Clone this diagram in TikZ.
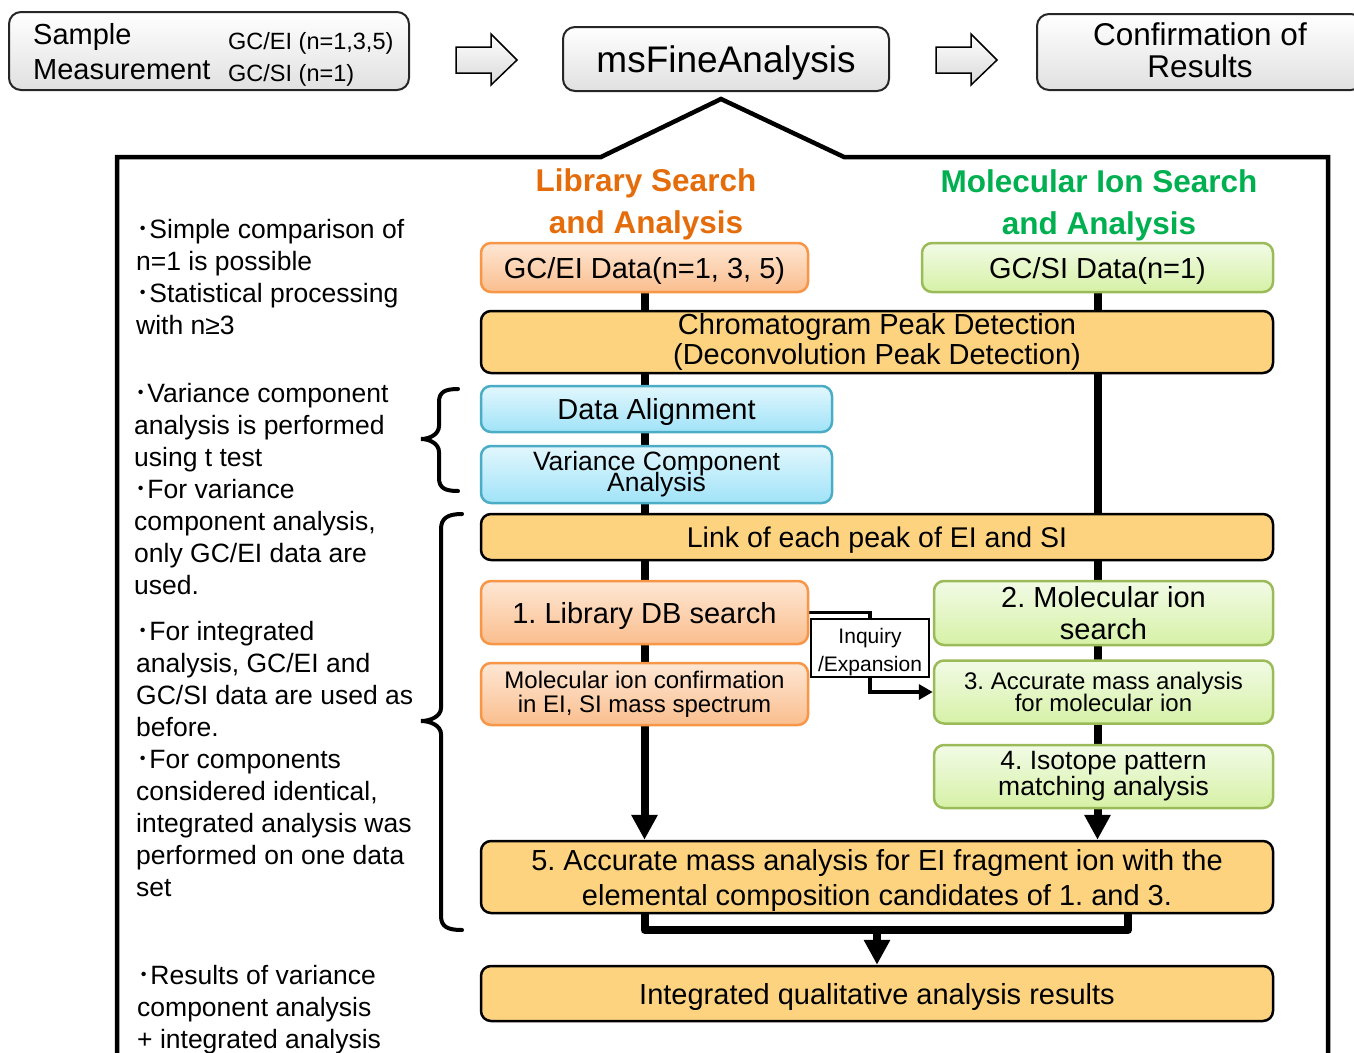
\documentclass[tikz,border=0pt]{standalone}
\usepackage{fontspec}
\setmainfont{Liberation Sans}
\newfontfamily\cjkfont{Noto Sans CJK JP}
\usetikzlibrary{arrows.meta}
\pgfdeclarelayer{background}
\pgfsetlayers{background,main}
\newcommand\myfs[2]{\fontsize{#1}{#2}\selectfont\lineskiplimit=-100pt\lineskip=0pt\frenchspacing}
\newcommand\bul{{\cjkfont ･}}
\definecolor{oTop}{RGB}{254,231,212}
\definecolor{oBot}{RGB}{250,190,142}
\definecolor{oBrd}{RGB}{247,150,70}
\definecolor{gTop}{RGB}{242,251,230}
\definecolor{gBot}{RGB}{214,241,166}
\definecolor{gBrd}{RGB}{155,187,89}
\definecolor{bTop}{RGB}{226,247,253}
\definecolor{bBot}{RGB}{160,227,248}
\definecolor{bBrd}{RGB}{75,172,198}
\definecolor{yFill}{RGB}{253,211,128}
\definecolor{hOrange}{RGB}{228,108,10}
\definecolor{hGreen}{RGB}{0,176,80}
\begin{document}
\begin{tikzpicture}[x=1pt,y=-1pt,
  topbox/.style={draw=black!85,line width=2pt,rounded corners=12pt,top color=white,bottom color=black!12,inner sep=0pt},
  obox/.style={draw=oBrd,line width=2.5pt,rounded corners=10pt,top color=oTop,bottom color=oBot,inner sep=0pt,align=center},
  gbox/.style={draw=gBrd,line width=2.5pt,rounded corners=10pt,top color=gTop,bottom color=gBot,inner sep=0pt,align=center},
  bbox/.style={draw=bBrd,line width=2.5pt,rounded corners=10pt,top color=bTop,bottom color=bBot,inner sep=0pt,align=center},
  ybox/.style={draw=black,line width=2.5pt,rounded corners=10pt,fill=yFill,inner sep=0pt,align=center},
  oneline/.style={text depth=0pt},
  plain/.style={inner sep=0pt},
  sidetext/.style={inner sep=0pt,anchor=north west,align=left,font=\myfs{26.5}{32}},
  hdr/.style={inner sep=0pt,align=center,font=\bfseries\myfs{31.5}{42}},
  flow/.style={line width=8pt},
  bigtip/.style={-{Triangle[length=25pt,width=25pt]}},
  hollow/.style={draw=black,line width=1.5pt,top color=white,bottom color=black!15,line join=miter},
  brace/.style={line width=4pt,line cap=round}]
\clip (0,0) rectangle (1354,1052);
\useasboundingbox (0,0) rectangle (1354,1052);

% top row
\node[topbox,minimum width=400pt,minimum height=78pt] (sample) at (209,51) {};
\node[plain,anchor=base west,font=\myfs{29}{30}] (sampleA) at (33,44) {Sample};
\node[plain,anchor=base west,font=\myfs{29}{30}] (sampleB) at (33,79) {Measurement};
\node[plain,anchor=base west,font=\myfs{23.5}{26}] (sampleC) at (228,49) {GC/EI (n=1,3,5)};
\node[plain,anchor=base west,font=\myfs{23.5}{26}] (sampleD) at (228,81) {GC/SI (n=1)};

\node[topbox,oneline,minimum width=326pt,minimum height=64pt,font=\myfs{37}{40}] (msfine) at (726,59) {msFineAnalysis};
\node[topbox,minimum width=326pt,minimum height=76pt] (confirm) at (1200,52) {};
\node[plain,align=center,font=\myfs{31.5}{32}] (confirmtext) at (1200,50) {Confirmation of\\Results};

\draw[hollow] (456,47) -- (491,47) -- (491,34) -- (517,60) -- (491,85) -- (491,73) -- (456,73) -- cycle;
\draw[hollow] (936,47) -- (971,47) -- (971,34) -- (997,60) -- (971,85) -- (971,73) -- (936,73) -- cycle;

% frame
\draw[line width=4.5pt,line join=miter] (117,1070) -- (117,157) -- (601,157) -- (721,99) -- (844,157) -- (1328,157) -- (1328,1070);

% headers
\node[hdr,text=hOrange] (hlib) at (646,204) {Library Search\\and Analysis};
\node[hdr,text=hGreen] (hmol) at (1099,205) {Molecular Ion Search\\and Analysis};

% boxes
\node[obox,oneline,minimum width=327pt,minimum height=49pt,font=\myfs{29}{32}] (gcei) at (644.5,267.5) {GC/EI Data(n=1, 3, 5)};
\node[gbox,oneline,minimum width=351pt,minimum height=49pt,font=\myfs{29}{32}] (gcsi) at (1097.5,267.5) {GC/SI Data(n=1)};
\node[ybox,minimum width=792pt,minimum height=62pt,font=\myfs{29}{30}] (chrom) at (877,342) {Chromatogram Peak Detection\\(Deconvolution Peak Detection)};
\node[bbox,oneline,minimum width=351pt,minimum height=46pt,font=\myfs{29}{32}] (align) at (656.5,409) {Data Alignment};
\node[bbox,minimum width=351pt,minimum height=57pt,font=\myfs{26.5}{21}] (varc) at (656.5,474.5) {Variance Component\\Analysis};
\node[ybox,oneline,minimum width=792pt,minimum height=46pt,font=\myfs{28.5}{32}] (link) at (877,537) {Link of each peak of EI and SI};
\node[obox,oneline,minimum width=327pt,minimum height=63pt,font=\myfs{29}{32}] (lib) at (644.5,612.5) {1. Library DB search};
\node[obox,minimum width=327pt,minimum height=62pt,font=\myfs{24}{24}] (molc) at (644.5,694) {Molecular ion confirmation\\in EI, SI mass spectrum};
\node[gbox,minimum width=339pt,minimum height=64pt,font=\myfs{29}{32}] (mol2) at (1103.5,613) {2. Molecular ion\\search};
\node[gbox,minimum width=339pt,minimum height=63pt,font=\myfs{24}{22}] (acc3) at (1103.5,692) {3. Accurate mass analysis\\for molecular ion};
\node[gbox,minimum width=339pt,minimum height=63pt,font=\myfs{26.5}{26}] (iso4) at (1103.5,776.5) {4. Isotope pattern\\matching analysis};
\node[ybox,minimum width=792pt,minimum height=72pt] (acc5) at (877,877) {};
\node[plain,align=center,font=\myfs{29}{35}] (acc5text) at (877,880) {5. Accurate mass analysis for EI fragment ion with the\\elemental composition candidates of 1. and 3.};
\node[ybox,oneline,minimum width=792pt,minimum height=55pt,font=\myfs{29}{32}] (integ) at (877,993.5) {Integrated qualitative analysis results};
\node[draw=black,line width=2pt,fill=white,minimum width=118pt,minimum height=58pt,inner sep=0pt] (inq) at (870,648) {};
\node[plain,align=center,font=\myfs{21}{28}] (inqtext) at (870,652) {Inquiry\\/Expansion};

% side texts
\node[sidetext] (t1) at (136,219) {\bul Simple comparison of\\n=1 is possible\\\bul Statistical processing\\with n≥3};
\node[sidetext] (t2) at (134,383) {\bul Variance component\\analysis is performed\\using t test\\\bul For variance\\component analysis,\\only GC/EI data are\\used.};
\node[sidetext] (t3) at (136,621) {\bul For integrated\\analysis, GC/EI and\\GC/SI data are used as\\before.\\\bul For components\\considered identical,\\integrated analysis was\\performed on one data\\set};
\node[sidetext] (t4) at (137,965) {\bul Results of variance\\component analysis\\+ integrated analysis};

% braces
\draw[brace] (458,389) .. controls (445,389) and (439,392) .. (439,402) -- (439,426) .. controls (439,434) and (430,439) .. (421,439) .. controls (430,439) and (439,444) .. (439,452) -- (439,478) .. controls (439,488) and (445,491) .. (458,491);
\draw[brace] (462,514) .. controls (448,514) and (441,518) .. (441,529) -- (441,708) .. controls (441,716) and (431,721) .. (421,721) .. controls (431,721) and (441,726) .. (441,734) -- (441,916) .. controls (441,927) and (448,930) .. (462,930);

% connectors
\coordinate (jr) at (1128,913);
\coordinate (jm) at (877,930);
\begin{pgfonlayer}{background}
\draw[flow,bigtip] (gcei.south) -- (gcei.south |- acc5.north);
\draw[flow,bigtip] (gcsi.south) -- (gcsi.south |- acc5.north);
\draw[line width=3.5pt,line join=miter,-{Triangle[length=14pt,width=15pt]}] (lib.east) -| (inq.center) |- (acc3.west);
\end{pgfonlayer}
\draw[flow,line join=round] (gcei.south |- acc5.south) |- (jm) -| (jr);
\draw[flow,bigtip] (jm) -- (integ.north);
\end{tikzpicture}
\end{document}
